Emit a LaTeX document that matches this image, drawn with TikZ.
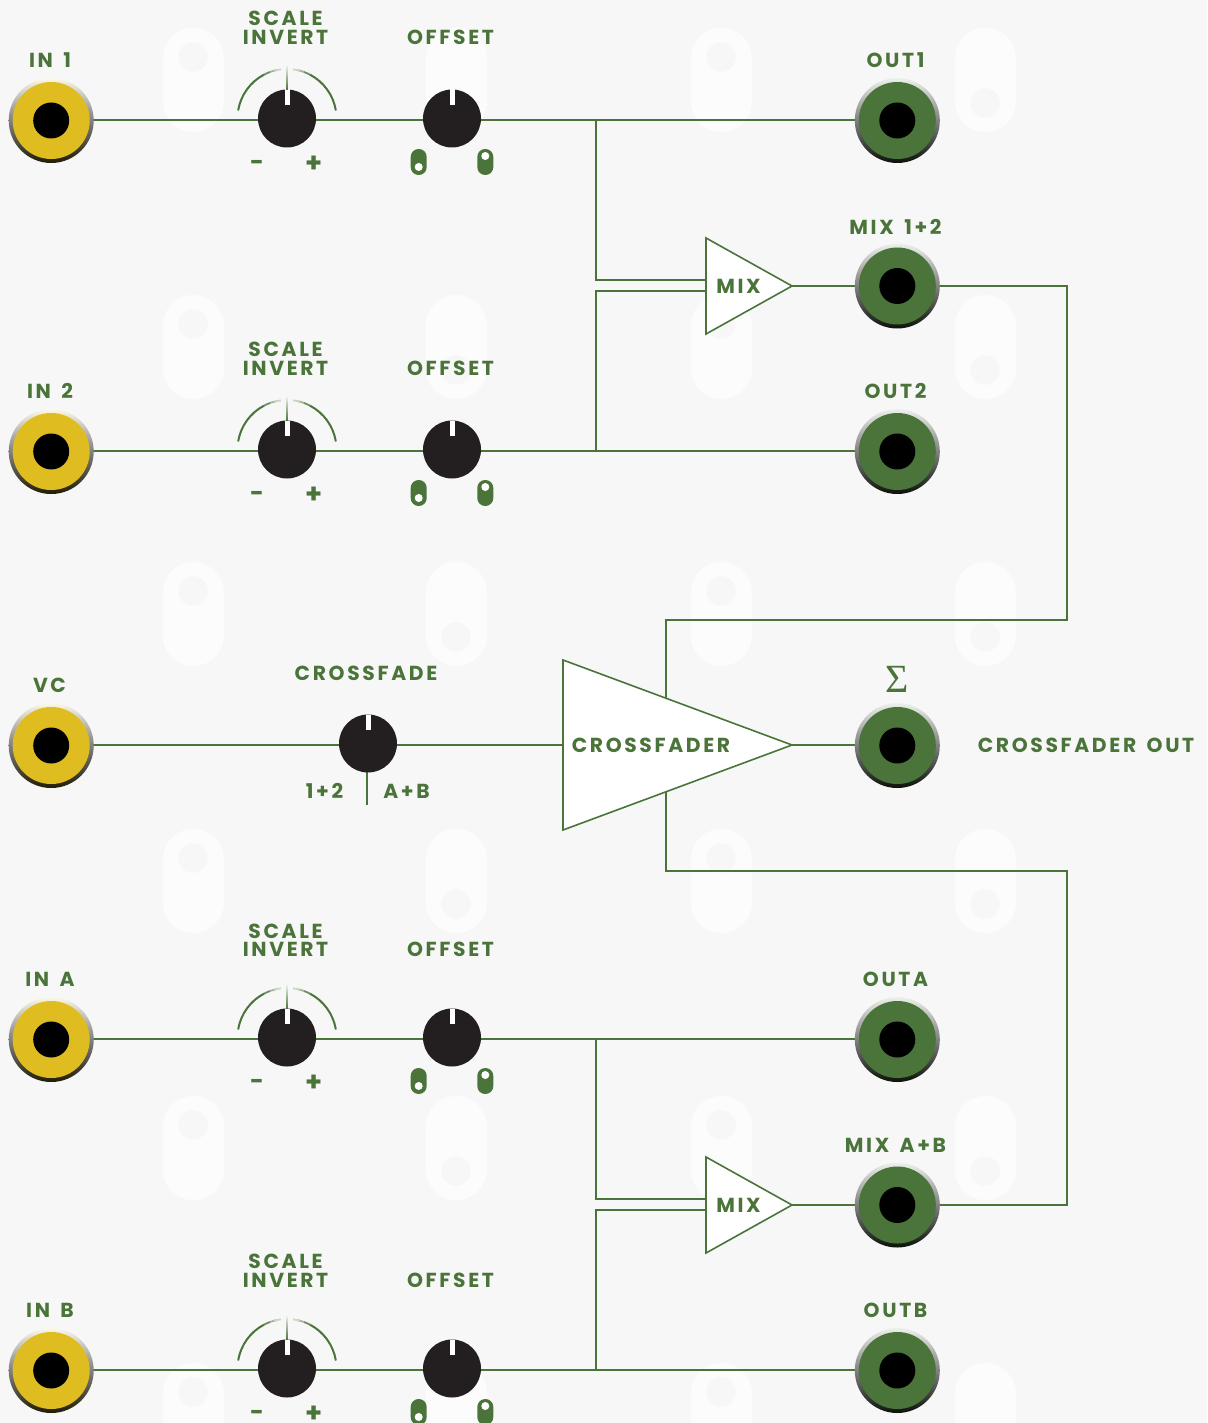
\documentclass[tikz,border=0pt]{standalone}
\usepackage{graphicx}
\usepackage{fontspec}
\setmainfont{Poppins}[BoldFeatures={LetterSpace=13,WordSpace=1.5}]
\newfontfamily\sigmafont{Liberation Serif}
\usetikzlibrary{shapes.geometric}
\definecolor{grn}{HTML}{4A7439}
\definecolor{pagebg}{HTML}{F7F7F7}
\definecolor{pillc}{HTML}{FCFCFC}
\definecolor{yel}{HTML}{DFBD20}
\definecolor{knobc}{HTML}{231F20}
\pgfdeclarelayer{back}\pgfdeclarelayer{wires}\pgfsetlayers{back,wires,main}
\tikzset{
  lbl/.style={inner sep=0pt,text=grn,font=\fontsize{20.3}{20}\selectfont\bfseries},
  wire/.style={draw=grn,line width=1.9pt},
  ring/.style={circle,inner sep=0pt,outer sep=0pt,minimum size=85pt,top color=#1!10!white,bottom color=black!85!#1,middle color=black!50},
  disc/.style={circle,inner sep=0pt,outer sep=0pt,minimum size=77pt,fill=#1},
  bore/.style={circle,inner sep=0pt,outer sep=0pt,minimum size=36pt,fill=black},
  knobn/.style={circle,inner sep=0pt,outer sep=0pt,minimum size=58pt,fill=knobc},
  tickm/.style={fill=white},
  togg/.style={rectangle,rounded corners=7.9pt,inner sep=0pt,minimum width=16pt,minimum height=26pt,fill=grn},
  toggdot/.style={circle,inner sep=0pt,minimum size=8pt,fill=white},
  tri/.style={isosceles triangle,isosceles triangle stretches,shape border rotate=0,draw=grn,fill=white,line width=1.6pt,inner sep=0pt,outer sep=0pt,anchor=apex},
  arcl/.style={line width=2pt,line cap=round},
}
\newcommand\jackn[4]{%
  \node[ring=#4] (#1) at (#2,#3) {};
  \node[disc=#4] (#1d) at (#2,#3) {};
  \node[bore] (#1b) at (#2,#3) {};}
\newcommand\knobm[3]{%
  \node[knobn] (#1) at (#2,#3) {};
  \fill[tickm] ([shift={(-2.5pt,0)}]#1.north) rectangle ([shift={(2.5pt,-15.5pt)}]#1.north);}
\newcommand\scalearc[1]{%
  \draw[grn,arcl] ([shift={(170:49.5pt)}]#1.center) arc[start angle=170,end angle=118,radius=49.5pt];
  \draw[grn,arcl] ([shift={(10:49.5pt)}]#1.center) arc[start angle=10,end angle=62,radius=49.5pt];
  \foreach \a/\m in {118/80,110/50,105/25}{%
    \pgfmathsetmacro\ea{\a-8}%
    \draw[grn!\m!pagebg,line width=1.8pt] ([shift={(\a:49.5pt)}]#1.center) arc[start angle=\a,end angle=\ea,radius=49.5pt];
    \pgfmathsetmacro\sa{180-\a}\pgfmathsetmacro\eb{180-\a+8}%
    \draw[grn!\m!pagebg,line width=1.8pt] ([shift={(\sa:49.5pt)}]#1.center) arc[start angle=\sa,end angle=\eb,radius=49.5pt];}
  \shade[top color=pagebg,bottom color=grn] ([shift={(-0.9pt,25pt)}]#1.north) rectangle ([shift={(0.9pt,0pt)}]#1.north);}
\newcommand\strip[7]{%
  \pgfmathsetmacro\ky{#2-2}\pgfmathsetmacro\ly{#2-#6+0.5}\pgfmathsetmacro\lz{#2-#7+0.5}\pgfmathsetmacro\ln{#2-60.5}\pgfmathsetmacro\lm{#2+45}\pgfmathsetmacro\lp{#2+44}\pgfmathsetmacro\tg{#2+41.5}\pgfmathsetmacro\tl{#2+46.5}\pgfmathsetmacro\tu{#2+35.5}
  \jackn{in#1}{51.2}{#2}{yel}
  \jackn{#5}{897.3}{#2}{grn}
  \knobm{sc#1}{287}{\ky}
  \knobm{of#1}{452}{\ky}
  \scalearc{sc#1}
  \node[lbl] (inl#1) at (50,\ln) {#3};
  \node[lbl] (outl#1) at (895.5,\ln) {#4};
  \node[lbl] (scl#1) at (285.5,\ly) {SCALE};
  \node[lbl] (inv#1) at (285.5,\lz) {INVERT};
  \node[lbl] (ofl#1) at (450.5,\lz) {OFFSET};
  \node[lbl,font=\fontsize{17}{17}\selectfont\bfseries] (mn#1) at (257,\lm) {\scalebox{1.4}{-}};
  \node[lbl,font=\fontsize{17}{17}\selectfont\bfseries] (pl#1) at (313.7,\lp) {\scalebox{1.6}{+}};
  \node[togg] (tl#1) at (418.7,\tg) {};
  \node[toggdot] (tld#1) at (418.7,\tl) {};
  \node[togg] (tr#1) at (485.3,\tg) {};
  \node[toggdot] (trd#1) at (485.3,\tu) {};
  \begin{pgfonlayer}{wires}
    \draw[wire] ([yshift=.5pt]in#1.center) -- ([yshift=.5pt]#5.center);
  \end{pgfonlayer}}
\begin{document}
\begin{tikzpicture}[x=1pt,y=-1pt]
\useasboundingbox (0,0) rectangle (1207,1423);
\begin{pgfonlayer}{back}
  \fill[pagebg] (0,0) rectangle (1207,1423);
  \foreach \r in {0,267,534,801,1068,1335}{
    \foreach \x/\d in {193/57,456/103,721/57,985/103}{
      \pgfmathsetmacro\ya{\r+58.5}\pgfmathsetmacro\yb{\r+101.5}\pgfmathsetmacro\yd{\r+\d}
      \draw[pillc,line width=61pt,line cap=round] (\x,\ya) -- (\x,\yb);
      \fill[pagebg] (\x,\yd) circle[radius=14.7pt];
    }}
\end{pgfonlayer}

\strip{1}{120.5}{IN 1}{OUT1}{out1}{103}{84}
\strip{2}{451.5}{IN 2}{OUT2}{out2}{103}{84}
\strip{A}{1039.5}{IN A}{OUTA}{outA}{109}{91}
\strip{B}{1370.5}{IN B}{OUTB}{outB}{110}{91}

\jackn{vc}{51.2}{745.5}{yel}
\jackn{mixo}{897.3}{286}{grn}
\jackn{mixab}{897.3}{1205}{grn}
\jackn{sum}{897.3}{745.5}{grn}
\knobm{xk}{368}{743.5}

\node[tri,minimum width=96pt,minimum height=86pt] (mix1) at (792,286) {};
\node[tri,minimum width=96pt,minimum height=86pt] (mix2) at (792,1205) {};
\node[tri,minimum width=170pt,minimum height=229pt] (xf) at (792,745) {};

\node[lbl] (mixl1) at (738.5,286) {MIX};
\node[lbl] (mixl2) at (738.5,1205) {MIX};
\node[lbl] (xfl) at (651,745) {CROSSFADER};
\node[lbl] (xfo) at (1086,745) {CROSSFADER OUT};
\node[lbl] (vcl) at (49.5,685) {VC};
\node[lbl] (xfd) at (366,673) {CROSSFADE};
\node[lbl] (l12) at (324.5,791) {1+2};
\node[lbl] (lab) at (406.5,791) {A+B};
\node[lbl] (m12) at (895.5,227) {MIX 1+2};
\node[lbl] (mab) at (895.5,1145) {MIX A+B};
\node[inner sep=0pt,text=grn,font=\sigmafont\fontsize{40}{40}\selectfont] (sg) at (897,679) {Σ};

\coordinate (j1) at (596,120);
\coordinate (j1b) at (596,280);
\coordinate (j1c) at (706,280);
\coordinate (j2) at (596,451);
\coordinate (j2b) at (596,291);
\coordinate (j2c) at (706,291);
\coordinate (jA) at (596,1039);
\coordinate (jAb) at (596,1199);
\coordinate (jAc) at (706,1199);
\coordinate (jB) at (596,1370);
\coordinate (jBb) at (596,1210);
\coordinate (jBc) at (706,1210);
\coordinate (t1) at (1067,286);
\coordinate (t2) at (1067,620);
\coordinate (t3) at (666,620);
\coordinate (t4) at (666,745);
\coordinate (b1) at (1067,1205);
\coordinate (b2) at (1067,871);
\coordinate (b3) at (666,871);
\coordinate (b4) at (666,745);
\coordinate (xe) at (367,805);
\coordinate (xs) at (367,760);
\begin{pgfonlayer}{wires}
  \draw[wire] (j1) -- (j1b) -- (j1c);
  \draw[wire] (j2) -- (j2b) -- (j2c);
  \draw[wire] (jA) -- (jAb) -- (jAc);
  \draw[wire] (jB) -- (jBb) -- (jBc);
  \draw[wire] (mix1.apex) -- (mixo.center);
  \draw[wire] (mix2.apex) -- (mixab.center);
  \draw[wire] (mixo.center) -- (t1) -- (t2) -- (t3) -- (t4);
  \draw[wire] (mixab.center) -- (b1) -- (b2) -- (b3) -- (b4);
  \draw[wire] ([yshift=.5pt]vc.center) -- ([yshift=.5pt]vc.center -| xf.apex);
  \draw[wire] ([yshift=.5pt]sum.center) -- (xf.apex);
  \draw[wire] (xs) -- (xe);
\end{pgfonlayer}
\end{tikzpicture}
\end{document}
